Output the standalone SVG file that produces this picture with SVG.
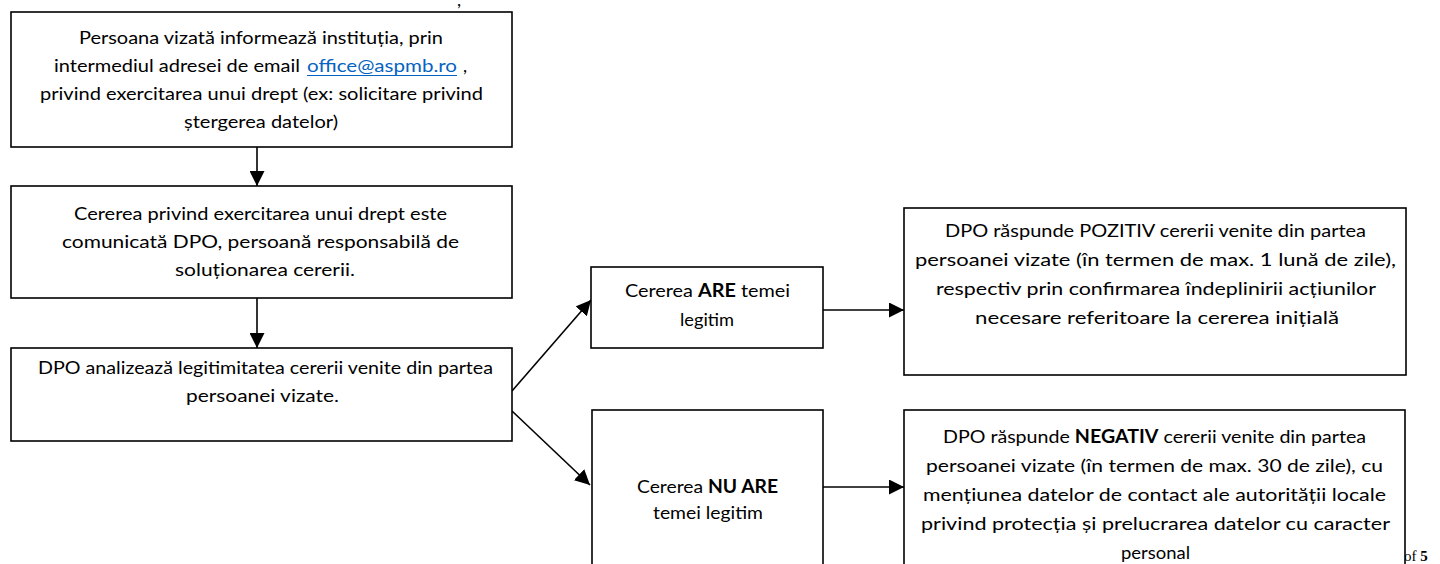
<svg xmlns="http://www.w3.org/2000/svg" width="1440" height="564" viewBox="0 0 1440 564">
<style>
.box{fill:#fff;stroke:#000;stroke-width:1.6}
.t{font-family:Lato,"Open Sans","Liberation Sans",sans-serif;font-size:18px;fill:#000}
.b{font-weight:bold}
.link{fill:#0563C1}
.conn{stroke:#000;stroke-width:1.6;fill:none}
.pg{font-family:"Liberation Serif",serif;font-size:15px;fill:#000}
</style>
<defs>
<marker id="arr" markerUnits="userSpaceOnUse" markerWidth="15" markerHeight="15" refX="14" refY="7" orient="auto" viewBox="0 0 14 14">
<path d="M0,0 L14,7 L0,14 z" fill="#000"/>
</marker>
</defs>
<rect width="1440" height="564" fill="#fff"/>
<text class="t" x="457" y="6" font-size="14">,</text>
<text class="pg" x="1404" y="561">of <tspan font-weight="bold">5</tspan></text>

<g id="connectors">
<line class="conn" x1="257" y1="147" x2="257" y2="186" marker-end="url(#arr)"/>
<line class="conn" x1="257" y1="298" x2="257" y2="348" marker-end="url(#arr)"/>
<line class="conn" x1="512" y1="391" x2="591" y2="300" marker-end="url(#arr)"/>
<line class="conn" x1="512" y1="411" x2="590" y2="485" marker-end="url(#arr)"/>
<line class="conn" x1="823" y1="310" x2="904" y2="310" marker-end="url(#arr)"/>
<line class="conn" x1="823" y1="487" x2="904" y2="487" marker-end="url(#arr)"/>
</g>

<g id="node-informare">
<rect class="box" x="11" y="12" width="501" height="135"/>
<text class="t" x="79" y="44" textLength="364" lengthAdjust="spacingAndGlyphs">Persoana vizată informează instituția, prin</text>
<text class="t" x="54" y="72" textLength="246" lengthAdjust="spacingAndGlyphs">intermediul adresei de email</text>
<text class="t link" x="307" y="72" textLength="150" lengthAdjust="spacingAndGlyphs">office@aspmb.ro</text>
<line x1="307" y1="75.5" x2="457" y2="75.5" stroke="#0563C1" stroke-width="1.2"/>
<text class="t" x="463" y="72">,</text>
<text class="t" x="40" y="100" textLength="443" lengthAdjust="spacingAndGlyphs">privind exercitarea unui drept (ex: solicitare privind</text>
<text class="t" x="184" y="128" textLength="154" lengthAdjust="spacingAndGlyphs">ștergerea datelor)</text>
</g>

<g id="node-comunicare">
<rect class="box" x="11" y="186" width="501" height="112"/>
<text class="t" x="74" y="220" textLength="373" lengthAdjust="spacingAndGlyphs">Cererea privind exercitarea unui drept este</text>
<text class="t" x="62" y="248" textLength="397" lengthAdjust="spacingAndGlyphs">comunicată DPO, persoană responsabilă de</text>
<text class="t" x="175" y="276" textLength="180" lengthAdjust="spacingAndGlyphs">soluționarea cererii.</text>
</g>

<g id="node-analiza">
<rect class="box" x="11" y="348" width="501" height="93"/>
<text class="t" x="38" y="374" textLength="455" lengthAdjust="spacingAndGlyphs">DPO analizează legitimitatea cererii venite din partea</text>
<text class="t" x="186" y="402" textLength="153" lengthAdjust="spacingAndGlyphs">persoanei vizate.</text>
</g>

<g id="node-are">
<rect class="box" x="591" y="267" width="232" height="81"/>
<text class="t" x="625" y="297" textLength="165" lengthAdjust="spacingAndGlyphs">Cererea <tspan class="b">ARE</tspan> temei</text>
<text class="t" x="680" y="326" textLength="54" lengthAdjust="spacingAndGlyphs">legitim</text>
</g>

<g id="node-pozitiv">
<rect class="box" x="904" y="208" width="502" height="167"/>
<text class="t" x="945" y="237" textLength="421" lengthAdjust="spacingAndGlyphs">DPO  răspunde  POZITIV cererii venite din partea</text>
<text class="t" x="915" y="266" textLength="481" lengthAdjust="spacingAndGlyphs">persoanei vizate (în termen de max. 1 lună de zile),</text>
<text class="t" x="936" y="295" textLength="440" lengthAdjust="spacingAndGlyphs">respectiv prin confirmarea îndeplinirii acțiunilor</text>
<text class="t" x="975" y="324" textLength="364" lengthAdjust="spacingAndGlyphs">necesare referitoare la cererea inițială</text>
</g>

<g id="node-nuare">
<rect class="box" x="592" y="410" width="231" height="170"/>
<text class="t" x="637" y="493" textLength="141" lengthAdjust="spacingAndGlyphs">Cererea <tspan class="b">NU ARE</tspan></text>
<text class="t" x="653" y="519" textLength="110" lengthAdjust="spacingAndGlyphs">temei legitim</text>
</g>

<g id="node-negativ">
<rect class="box" x="904" y="410" width="501" height="170"/>
<text class="t" x="943" y="443" textLength="423" lengthAdjust="spacingAndGlyphs">DPO răspunde  <tspan class="b">NEGATIV</tspan> cererii venite din partea</text>
<text class="t" x="926" y="472" textLength="457" lengthAdjust="spacingAndGlyphs">persoanei vizate (în termen de max. 30 de zile), cu</text>
<text class="t" x="923" y="501" textLength="463" lengthAdjust="spacingAndGlyphs">mențiunea datelor de contact ale autorității locale</text>
<text class="t" x="921" y="530" textLength="469" lengthAdjust="spacingAndGlyphs">privind protecția și prelucrarea datelor cu caracter</text>
<text class="t" x="1121" y="559" textLength="69" lengthAdjust="spacingAndGlyphs">personal</text>
</g>
</svg>
